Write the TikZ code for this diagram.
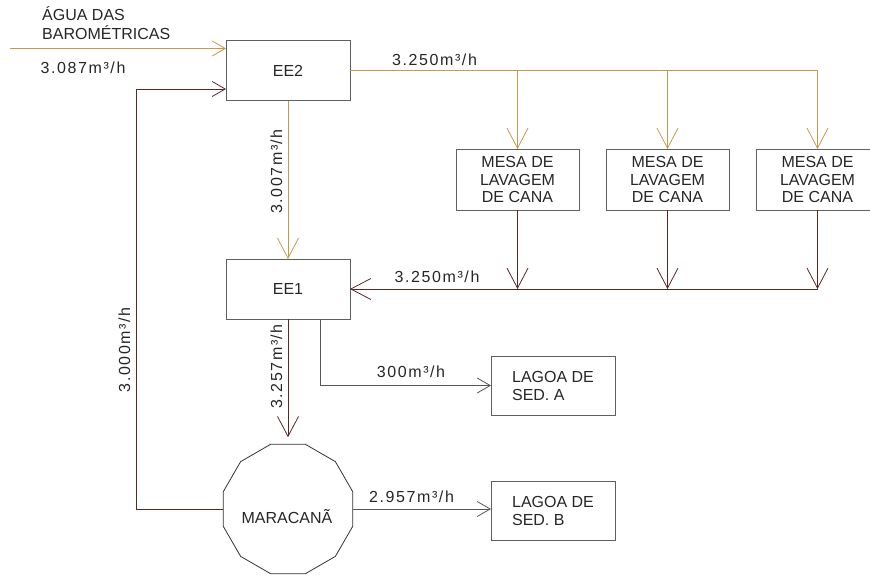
\documentclass[tikz,border=0pt]{standalone}
\usepackage{fontspec}
\setmainfont{Liberation Sans}
\newfontfamily\flowfont{Liberation Sans}[LetterSpace=10]
\usetikzlibrary{arrows.meta,shapes.geometric,calc}
\definecolor{goldline}{HTML}{C49A4E}
\definecolor{brownline}{HTML}{5B2626}
\definecolor{boxgray}{HTML}{5F5F5F}
\begin{document}
\begin{tikzpicture}[x=1pt,y=-1pt,
  every node/.style={font=\fontsize{16}{18}\selectfont, text=black!85},
  box/.style={draw=boxgray, line width=0.9pt, minimum width=124pt, minimum height=60pt, inner sep=0pt, outer sep=0pt},
  mesabox/.style={box, minimum width=123pt, minimum height=61pt, align=center, font=\fontsize{16}{17.5}\selectfont},
  lagbox/.style={box, minimum height=59pt, align=left},
  bigarrow/.style={-{Straight Barb[length=20pt,width=21pt,line width=0.8pt]}},
  smallarrow/.style={-{Straight Barb[length=13pt,width=15pt,line width=0.8pt]}},
  gold/.style={draw=goldline, line width=0.8pt},
  brown/.style={draw=brownline, line width=0.8pt},
  grayline/.style={draw=boxgray!90!black, line width=0.8pt},
  flow/.style={anchor=base, inner sep=0pt, font=\flowfont\fontsize{16}{18}\selectfont}
]
\useasboundingbox (0,0) rectangle (870,576);

% boxes
\node[box] (ee2) at (288,70.5) {EE2};
\node[box] (ee1) at (288,289) {EE1};
\node[mesabox] (m1) at (517.5,179.5) {MESA DE\\LAVAGEM\\DE CANA};
\node[mesabox] (m2) at (667.5,179.5) {MESA DE\\LAVAGEM\\DE CANA};
\node[mesabox] (m3) at (817.5,179.5) {MESA DE\\LAVAGEM\\DE CANA};
\node[lagbox] (la) at (553,385.5) {LAGOA DE\\SED. A};
\node[lagbox] (lb) at (553,511) {LAGOA DE\\SED. B};
\node[regular polygon, regular polygon sides=12, minimum size=134pt, draw=black!80, line width=0.8pt, inner sep=0pt, outer sep=0pt] (mar) at (288,509) {};
\node[anchor=base, inner sep=0pt] (martext) at (287,523) {MARACANÃ};

% input
\coordinate (aguain) at (10,48.5);
\node[anchor=base west, inner sep=0pt] (agua1) at (42,20) {ÁGUA DAS};
\node[anchor=base west, inner sep=0pt] (agua2) at (42,39) {BAROMÉTRICAS};
\node[flow] (q0) at (83,73) {3.087m³/h};
\draw[gold, smallarrow] (aguain) -- (ee2.west |- aguain);

% return from Maracana to EE2
\coordinate (retc) at (136,89);
\draw[brown, smallarrow] (mar.west) -| (retc) -- (ee2.west |- retc);
\node[flow, rotate=90] (q1) at (130,350) {3.000m³/h};

% EE2 -> EE1
\draw[gold, bigarrow] (ee2.south) -- (ee1.north);
\node[flow, rotate=90] (q2) at (282,171.5) {3.007m³/h};

% EE2 -> mesas
\draw[gold] (ee2.east) -- (m3.north |- ee2.east);
\draw[gold, bigarrow] (m1.north |- ee2.east) -- (m1.north);
\draw[gold, bigarrow] (m2.north |- ee2.east) -- (m2.north);
\draw[gold, bigarrow] (m3.north |- ee2.east) -- (m3.north);
\node[flow] (q3) at (434.5,65) {3.250m³/h};

% mesas -> collector -> EE1
\draw[brown, bigarrow] (m1.south) -- (m1.south |- ee1.east);
\draw[brown, bigarrow] (m2.south) -- (m2.south |- ee1.east);
\draw[brown, bigarrow] (m3.south) -- (m3.south |- ee1.east);
\draw[brown, bigarrow] (m3.south |- ee1.east) -- (ee1.east);
\node[flow] (q4) at (437,282) {3.250m³/h};

% EE1 -> Maracana
\draw[brown, bigarrow, shorten >=7pt] (ee1.south) -- (mar.north);
\node[flow, rotate=90] (q5) at (282,366.5) {3.257m³/h};

% EE1 -> Lagoa A
\draw[grayline, smallarrow] ([xshift=32pt]ee1.south) |- (la.west);
\node[flow] (q6) at (411,377) {300m³/h};

% Maracana -> Lagoa B
\draw[grayline, smallarrow] (mar.east) -- (mar.east -| lb.west);
\node[flow] (q7) at (411.5,502) {2.957m³/h};
\end{tikzpicture}
\end{document}
